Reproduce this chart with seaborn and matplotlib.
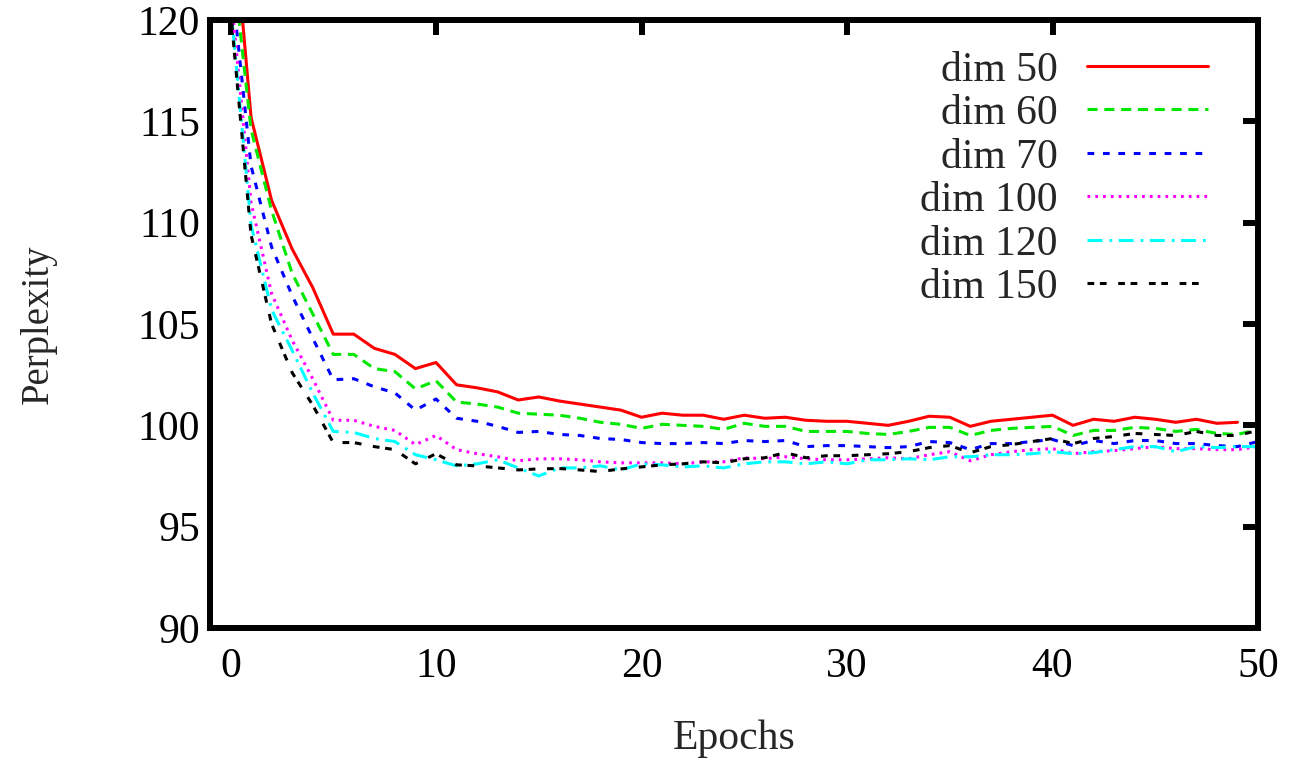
import matplotlib

matplotlib.use("Agg")
import matplotlib.pyplot as plt
import numpy as np
import pandas as pd
import seaborn as sns

# perplexity per epoch
dim_labels = ["dim 50", "dim 60", "dim 70", "dim 100", "dim 120", "dim 150"]

dim50 = [126.8, 115.2, 111.1, 108.7, 106.8, 104.5, 104.5, 103.8, 103.5, 102.8,
         103.1, 102.0, 101.85, 101.65, 101.25, 101.4, 101.2, 101.05, 100.9, 100.75,
         100.4, 100.6, 100.5, 100.5, 100.3, 100.5, 100.35, 100.4, 100.25, 100.2,
         100.2, 100.1, 100.0, 100.2, 100.45, 100.4, 99.95, 100.2, 100.3, 100.4,
         100.5, 100.0, 100.3, 100.2, 100.4, 100.3, 100.15, 100.3, 100.1, 100.15]
dim60 = [123.8, 114.6, 110.6, 107.5, 105.5, 103.5, 103.5, 102.8, 102.65, 101.8,
         102.2, 101.15, 101.05, 100.9, 100.6, 100.55, 100.5, 100.35, 100.15, 100.05,
         99.85, 100.05, 100.0, 99.95, 99.8, 100.1, 99.95, 99.95, 99.7, 99.7,
         99.7, 99.6, 99.55, 99.7, 99.9, 99.9, 99.5, 99.75, 99.85, 99.9,
         99.95, 99.5, 99.75, 99.75, 99.9, 99.85, 99.7, 99.8, 99.6, 99.55, 99.8]
dim70 = [122.4, 112.8, 108.8, 106.4, 104.3, 102.25, 102.3, 101.9, 101.6, 100.75,
         101.3, 100.35, 100.2, 99.95, 99.65, 99.7, 99.55, 99.5, 99.35, 99.3,
         99.15, 99.1, 99.1, 99.15, 99.1, 99.25, 99.2, 99.25, 98.95, 99.0,
         99.0, 98.95, 98.9, 98.95, 99.2, 99.15, 98.8, 99.1, 99.1, 99.2,
         99.3, 99.0, 99.25, 99.1, 99.25, 99.25, 99.1, 99.1, 99.0, 98.95, 99.2]
dim100 = [121.5, 111.0, 106.5, 104.2, 102.3, 100.25, 100.25, 99.95, 99.75, 99.05,
          99.5, 98.8, 98.6, 98.45, 98.25, 98.35, 98.35, 98.3, 98.2, 98.15,
          98.15, 98.15, 98.1, 98.2, 98.2, 98.4, 98.35, 98.45, 98.35, 98.3,
          98.3, 98.35, 98.4, 98.35, 98.55, 98.7, 98.25, 98.55, 98.7, 98.8,
          98.85, 98.6, 98.7, 98.75, 98.85, 98.95, 98.85, 98.85, 98.8, 98.8, 98.95]
dim120 = [120.8, 109.9, 105.7, 103.7, 101.6, 99.7, 99.65, 99.35, 99.2, 98.55,
          98.3, 98.0, 98.1, 98.3, 97.9, 97.5, 97.9, 97.9, 98.0, 97.8,
          98.1, 98.05, 97.95, 98.0, 97.9, 98.1, 98.2, 98.2, 98.1, 98.2,
          98.1, 98.3, 98.3, 98.35, 98.3, 98.45, 98.45, 98.55, 98.55, 98.6,
          98.7, 98.6, 98.65, 98.8, 98.95, 98.95, 98.7, 98.95, 98.9, 98.95, 98.95]
dim150 = [120.5, 109.4, 105.0, 102.6, 101.0, 99.15, 99.15, 98.95, 98.8, 98.1,
          98.6, 98.05, 98.0, 97.9, 97.8, 97.85, 97.87, 97.8, 97.72, 97.85,
          97.95, 98.05, 98.1, 98.2, 98.15, 98.35, 98.4, 98.65, 98.4, 98.5,
          98.5, 98.55, 98.6, 98.7, 98.9, 99.0, 98.65, 98.95, 99.05, 99.2,
          99.35, 99.1, 99.35, 99.45, 99.6, 99.55, 99.5, 99.7, 99.5, 99.5, 99.75]

series = [dim50, dim60, dim70, dim100, dim120, dim150]

x_ticks = [0, 10, 20, 30, 40, 50]
y_ticks = [90, 95, 100, 105, 110, 115, 120]

# gnuplot-like colours and dash patterns (in units of line width)
palette = dict(zip(dim_labels, ["#ff0000", "#00e800", "#0000ff", "#ff00ff", "#00ffff", "#000000"]))
dashes = dict(zip(dim_labels, ["", (3.3, 2.2), (2.2, 2.85), (0.9, 1.65),
                               (4.9, 2.3, 0.9, 2.1), (2.2, 1.85, 2.2, 3.8)]))

frames = []
for label, values in zip(dim_labels, series):
    frames.append(pd.DataFrame({"Epochs": np.arange(len(values)), "Perplexity": values, "dim": label}))
df = pd.concat(frames, ignore_index=True)

sns.set_style("white")
plt.rcParams["font.family"] = ["Liberation Serif", "DejaVu Serif"]
plt.rcParams["axes.linewidth"] = 4.3

LW = 2.2
FS = 30
fig = plt.figure(figsize=(12.92, 7.58), dpi=100)
ax = fig.add_axes([0.1625, 0.1715, 0.8112, 0.8021])

sns.lineplot(
    data=df, x="Epochs", y="Perplexity", hue="dim", style="dim",
    hue_order=dim_labels, style_order=dim_labels,
    palette=palette, dashes=dashes, linewidth=LW, ax=ax,
)

ax.set_xlim(-1, 50)
ax.set_ylim(90, 120)
ax.set_xticks(x_ticks)
ax.set_yticks(y_ticks)
for side in ax.spines.values():
    side.set_color("black")
    side.set_linewidth(4.3)
ax.tick_params(axis="both", direction="in", length=11, width=4.3, colors="black",
               labelsize=FS, top=True, right=True)
ax.tick_params(axis="x", pad=14)
ax.tick_params(axis="y", pad=7)
ax.set_xlabel("Epochs", fontsize=FS, labelpad=24)
ax.set_ylabel("Perplexity", fontsize=28, labelpad=58)

handles, labels = ax.get_legend_handles_labels()
leg = ax.legend(
    handles, labels, loc="upper right", bbox_to_anchor=(0.952, 0.949),
    frameon=False, markerfirst=False, fontsize=FS, handlelength=2.9,
    handletextpad=0.7, labelspacing=0.12, borderpad=0, borderaxespad=0,
)
for h in leg.legend_handles:
    h.set_linewidth(LW)

fig.savefig("out.png", dpi=100)
